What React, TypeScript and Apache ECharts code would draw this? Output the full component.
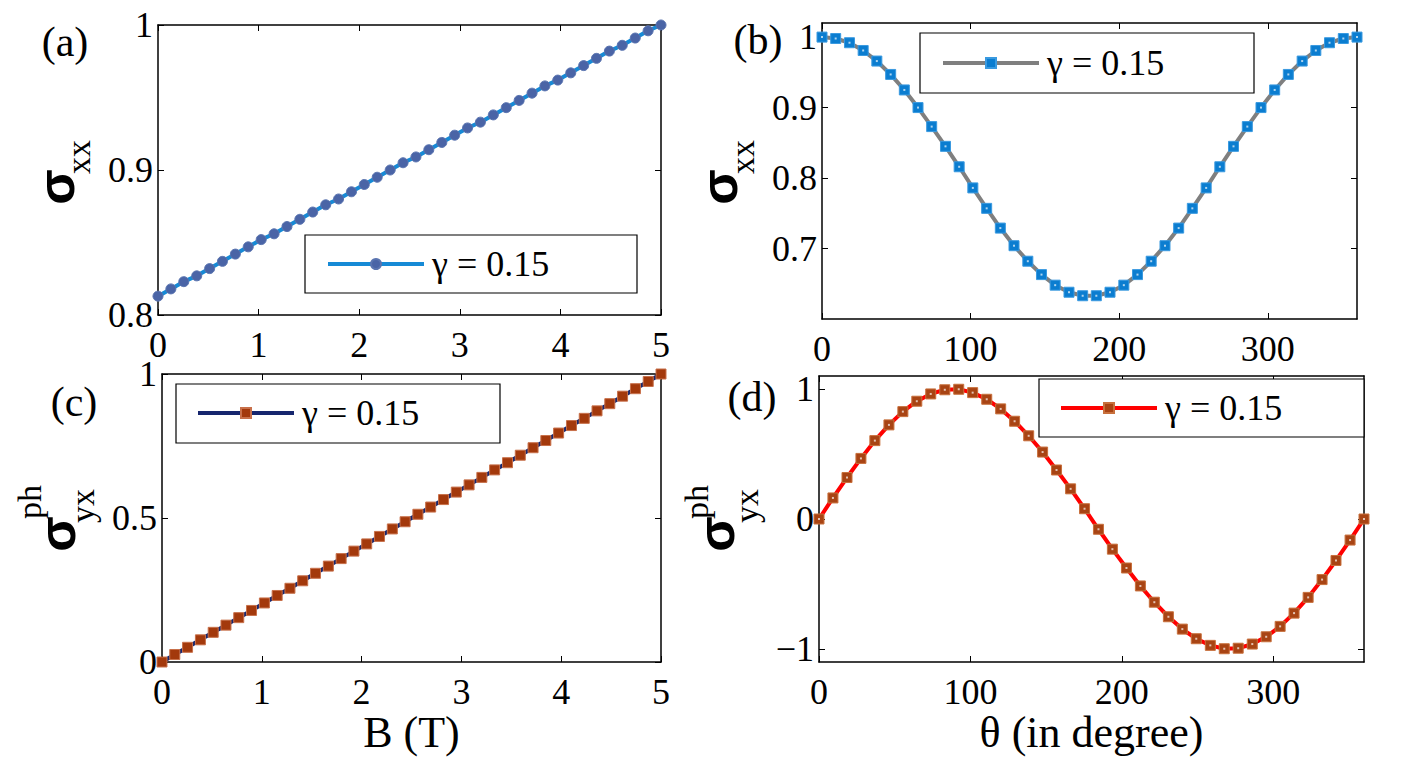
import React, { useEffect, useRef } from "react";
import * as echarts from "echarts";

// Magnetic field sweep (T) and rotation angle sweep (degrees), 40 samples each
const B_FIELD = [
  0, 0.128, 0.256, 0.385, 0.513, 0.641, 0.769, 0.897, 1.026, 1.154,
  1.282, 1.41, 1.538, 1.667, 1.795, 1.923, 2.051, 2.179, 2.308, 2.436,
  2.564, 2.692, 2.821, 2.949, 3.077, 3.205, 3.333, 3.462, 3.59, 3.718,
  3.846, 3.974, 4.103, 4.231, 4.359, 4.487, 4.615, 4.744, 4.872, 5,
];
const THETA = [
  0, 9.2, 18.5, 27.7, 36.9, 46.2, 55.4, 64.6, 73.8, 83.1,
  92.3, 101.5, 110.8, 120, 129.2, 138.5, 147.7, 156.9, 166.2, 175.4,
  184.6, 193.8, 203.1, 212.3, 221.5, 230.8, 240, 249.2, 258.5, 267.7,
  276.9, 286.2, 295.4, 304.6, 313.8, 323.1, 332.3, 341.5, 350.8, 360,
];

// (a) longitudinal conductivity vs B
const SXX_VS_B = [
  0.813, 0.818, 0.823, 0.827, 0.832, 0.837, 0.842, 0.847, 0.852, 0.856,
  0.861, 0.866, 0.871, 0.876, 0.88, 0.885, 0.89, 0.895, 0.9, 0.905,
  0.909, 0.914, 0.919, 0.924, 0.929, 0.933, 0.938, 0.943, 0.948, 0.953,
  0.958, 0.962, 0.967, 0.972, 0.977, 0.982, 0.986, 0.991, 0.996, 1.0,
];
// (b) longitudinal conductivity vs theta
const SXX_VS_THETA = [
  1.0, 0.998, 0.992, 0.981, 0.966, 0.947, 0.925, 0.9, 0.873, 0.845,
  0.816, 0.786, 0.757, 0.729, 0.704, 0.682, 0.663, 0.648, 0.638, 0.633,
  0.633, 0.638, 0.648, 0.663, 0.682, 0.704, 0.729, 0.757, 0.786, 0.816,
  0.845, 0.873, 0.9, 0.925, 0.947, 0.966, 0.981, 0.992, 0.998, 1.0,
];
// (c) planar Hall conductivity vs B
const SYX_VS_B = [
  0, 0.026, 0.051, 0.077, 0.103, 0.128, 0.154, 0.179, 0.205, 0.231,
  0.256, 0.282, 0.308, 0.333, 0.359, 0.385, 0.41, 0.436, 0.462, 0.487,
  0.513, 0.538, 0.564, 0.59, 0.615, 0.641, 0.667, 0.692, 0.718, 0.744,
  0.769, 0.795, 0.821, 0.846, 0.872, 0.897, 0.923, 0.949, 0.974, 1.0,
];
// (d) planar Hall conductivity vs theta
const SYX_VS_THETA = [
  0, 0.162, 0.319, 0.466, 0.603, 0.724, 0.826, 0.906, 0.962, 0.994,
  0.998, 0.972, 0.921, 0.847, 0.752, 0.64, 0.515, 0.377, 0.232, 0.079,
  -0.079, -0.232, -0.377, -0.515, -0.64, -0.752, -0.847, -0.921, -0.972, -0.998,
  -0.994, -0.962, -0.906, -0.826, -0.724, -0.603, -0.466, -0.319, -0.162, 0,
];

const X_TICKS_B = [0, 1, 2, 3, 4, 5];
const X_TICKS_THETA = [0, 100, 200, 300];
const Y_TICKS_A = [0.8, 0.9, 1];
const Y_TICKS_B = [0.7, 0.8, 0.9, 1];
const Y_TICKS_C = [0, 0.5, 1];
const Y_TICKS_D = [-1, 0, 1];

const LEGEND_TEXT = "γ = 0.15";
const SERIF = "'Liberation Serif', 'Times New Roman', serif";
const SANS = "'Liberation Sans', Arial, sans-serif";

const zip = (xs: number[], ys: number[]) => xs.map((x, i) => [x, ys[i]]);
const fmt = (v: number) => String(Number(v.toFixed(3))).replace("-", "−");

function axisPair(
  kind: "x" | "y",
  gridIndex: number,
  min: number,
  max: number,
  ticks: number[],
  extra: any = {}
) {
  const base = {
    type: "value",
    gridIndex,
    min,
    max,
    splitLine: { show: false },
    axisLine: { show: true, onZero: false, lineStyle: { color: "#000", width: 1.5 } },
    axisTick: {
      show: true,
      inside: true,
      length: 6,
      customValues: ticks,
      lineStyle: { color: "#000", width: 1 },
    },
  };
  const main = {
    ...base,
    position: kind === "x" ? "bottom" : "left",
    axisLabel: {
      show: true,
      customValues: ticks,
      formatter: (v: number) => fmt(v),
      fontSize: 36,
      lineHeight: 26,
      fontFamily: SERIF,
      color: "#000",
      margin: kind === "x" ? 17 : 5,
    },
    ...extra,
  };
  const mirror = {
    ...base,
    position: kind === "x" ? "top" : "right",
    axisLabel: { show: false },
  };
  return [main, mirror];
}

function lineSeries(
  name: string,
  idx: number,
  data: number[][],
  lineColor: string,
  markerColor: string,
  markerEdge: string,
  symbol: string
) {
  return {
    name,
    type: "line",
    xAxisIndex: idx * 2,
    yAxisIndex: idx * 2,
    data,
    symbol,
    symbolSize: 10,
    showSymbol: true,
    lineStyle: { color: lineColor, width: 4 },
    itemStyle: { color: markerColor, borderColor: markerEdge, borderWidth: 1 },
    z: 2,
  };
}

// small light squares at the centre of the square markers
function centerDots(idx: number, data: number[][]) {
  return {
    name: "dots" + idx,
    type: "scatter",
    xAxisIndex: idx * 2,
    yAxisIndex: idx * 2,
    data,
    symbol: "rect",
    symbolSize: 2,
    silent: true,
    itemStyle: { color: "rgba(255,255,255,0.85)" },
    z: 4,
  };
}

function legendAt(name: string, left: number, top: number) {
  return {
    data: [name],
    left,
    top,
    padding: 0,
    itemWidth: 96,
    itemHeight: 12.5,
    itemGap: 0,
    selectedMode: false,
    lineStyle: { width: 4 },
    formatter: () => "{g|" + LEGEND_TEXT + "}",
    textStyle: {
      fontSize: 36,
      fontFamily: SERIF,
      color: "#000",
      rich: {
        g: { fontSize: 36, fontFamily: SERIF, color: "#000", padding: [0, 0, 0, 3] },
      },
    },
    z: 6,
  };
}

function legendFrame(x: number, y: number, w: number, h: number) {
  return {
    type: "rect",
    z: 5,
    shape: { x, y, width: w, height: h },
    style: { fill: "#fff", stroke: "#000", lineWidth: 1.2 },
  };
}

function txt(x: number, y: number, text: string, size: number, opts: any = {}) {
  return {
    type: "text",
    x,
    y,
    rotation: opts.rotation || 0,
    z: 6,
    style: {
      text,
      fontSize: size,
      fontFamily: opts.family || SERIF,
      fontWeight: opts.weight || "normal",
      fill: "#000",
      align: "center",
      verticalAlign: "middle",
      textAlign: "center",
      textVerticalAlign: "middle",
    },
  };
}

const R = Math.PI / 2;

function buildOption() {
  const nameStyle = { fontSize: 44, fontFamily: SERIF, color: "#000" };
  const [xa, xa2] = axisPair("x", 0, 0, 5, X_TICKS_B);
  const [ya, ya2] = axisPair("y", 0, 0.8, 1, Y_TICKS_A);
  const [xb, xb2] = axisPair("x", 1, 0, 360, X_TICKS_THETA);
  const [yb, yb2] = axisPair("y", 1, 0.6, 1.02, Y_TICKS_B);
  const [xc, xc2] = axisPair("x", 2, 0, 5, X_TICKS_B, {
    name: "B (T)",
    nameLocation: "middle",
    nameGap: 44,
    nameTextStyle: nameStyle,
  });
  const [yc, yc2] = axisPair("y", 2, 0, 1, Y_TICKS_C);
  const [xd, xd2] = axisPair("x", 3, 0, 360, X_TICKS_THETA, {
    name: "θ (in degree)",
    nameLocation: "middle",
    nameGap: 44,
    nameTextStyle: nameStyle,
  });
  const [yd, yd2] = axisPair("y", 3, -1.1, 1.1, Y_TICKS_D);

  const dataA = zip(B_FIELD, SXX_VS_B);
  const dataB = zip(THETA, SXX_VS_THETA);
  const dataC = zip(B_FIELD, SYX_VS_B);
  const dataD = zip(THETA, SYX_VS_THETA);

  return {
    animation: false,
    backgroundColor: "#fff",
    textStyle: { fontFamily: SERIF },
    grid: [
      { left: 158, top: 25, width: 503, height: 290 },
      { left: 822, top: 23, width: 535, height: 296 },
      { left: 162, top: 374, width: 499, height: 288 },
      { left: 819, top: 376, width: 545, height: 286 },
    ],
    xAxis: [xa, xa2, xb, xb2, xc, xc2, xd, xd2],
    yAxis: [ya, ya2, yb, yb2, yc, yc2, yd, yd2],
    legend: [
      legendAt("σxx(B)", 326, 246),
      legendAt("σxx(θ)", 941, 45),
      legendAt("σyx(B)", 196, 395),
      legendAt("σyx(θ)", 1059, 390),
    ],
    series: [
      lineSeries("σxx(B)", 0, dataA, "#168ad6", "#4a64a6", "#5a74b0", "circle"),
      lineSeries("σxx(θ)", 1, dataB, "#7f7f7f", "#0b7dd0", "#3a9ae0", "rect"),
      lineSeries("σyx(B)", 2, dataC, "#16266e", "#a3390c", "#c8704a", "rect"),
      lineSeries("σyx(θ)", 3, dataD, "#ff0000", "#a84414", "#c8703c", "rect"),
      centerDots(1, dataB),
      centerDots(3, dataD),
    ],
    graphic: [
      legendFrame(305, 235, 332, 58),
      legendFrame(920, 33, 334, 60),
      legendFrame(176, 384, 324, 59),
      legendFrame(1039, 379, 325, 58),
      // panel tags
      txt(65, 42, "(a)", 42),
      txt(758, 40, "(b)", 42),
      txt(74, 402, "(c)", 42),
      txt(752, 397, "(d)", 42),
      // y-axis titles
      txt(56, 187, "σ", 52, { rotation: R, family: SANS, weight: "bold" }),
      txt(78, 157, "xx", 34, { rotation: R }),
      txt(719, 187, "σ", 52, { rotation: R, family: SANS, weight: "bold" }),
      txt(742, 157, "xx", 34, { rotation: R }),
      txt(57, 534, "σ", 52, { rotation: R, family: SANS, weight: "bold" }),
      txt(82, 506, "yx", 34, { rotation: R }),
      txt(29, 502, "ph", 34, { rotation: R }),
      txt(716, 534, "σ", 52, { rotation: R, family: SANS, weight: "bold" }),
      txt(746, 506, "yx", 34, { rotation: R }),
      txt(696, 502, "ph", 34, { rotation: R }),
    ],
  };
}

export default function App() {
  const ref = useRef<HTMLDivElement>(null);
  useEffect(() => {
    if (!ref.current) return;
    const chart = echarts.init(ref.current, undefined, { renderer: "svg" });
    chart.setOption(buildOption() as any);
    return () => chart.dispose();
  }, []);
  return (
    <div
      ref={ref}
      style={{ position: "absolute", left: 0, top: 0, width: 1419, height: 765, background: "#fff" }}
    />
  );
}
